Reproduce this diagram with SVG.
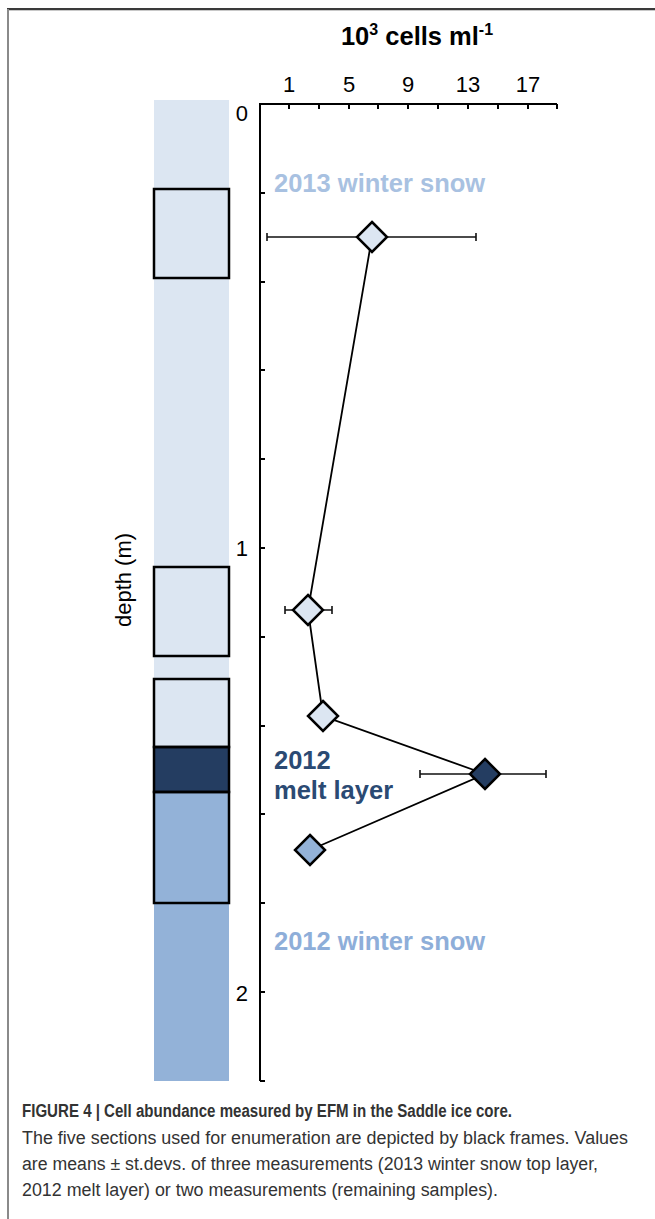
<svg xmlns="http://www.w3.org/2000/svg" width="655" height="1219" viewBox="0 0 655 1219">
<style>
.ax{stroke:#000;stroke-width:2;fill:none}
.frame{fill:none;stroke:#000;stroke-width:2.5}
.lbl{font-family:"Liberation Sans",Arial,sans-serif;font-size:22px;fill:#000}
.big{font-family:"Liberation Sans",Arial,sans-serif;font-size:25.5px;font-weight:bold}
.err{stroke:#111;stroke-width:1.6;fill:none}
.dia{stroke:#000;stroke-width:2.5}
.cap{font-family:"Liberation Sans",Arial,sans-serif;font-size:18px;fill:#333}
</style>
<rect width="655" height="1219" fill="#fff"/>
<g id="border">
<line x1="7" y1="9" x2="655" y2="9" stroke="#3a3a3a" stroke-width="2"/>
<line x1="7" y1="10.5" x2="655" y2="10.5" stroke="#c8c8c8" stroke-width="1"/>
<line x1="8" y1="9" x2="8" y2="1219" stroke="#8a8a8a" stroke-width="2"/>
</g>
<g id="core">
<rect x="154" y="100" width="75" height="647" fill="#dce6f2"/>
<rect x="154" y="747" width="75" height="45" fill="#243d61"/>
<rect x="154" y="792" width="75" height="289" fill="#93b2d8"/>
<rect class="frame" x="154" y="189" width="75" height="89"/>
<rect class="frame" x="154" y="567" width="75" height="89"/>
<rect class="frame" x="154" y="679" width="75" height="68"/>
<rect class="frame" x="154" y="747" width="75" height="45"/>
<rect class="frame" x="154" y="792" width="75" height="111"/>
</g>
<g id="axes">
<path class="ax" d="M260 1081 L260 104 L557 104 M557 104 L557 109 M260 1081 L265 1081"/>
<path class="ax" d="M289 104v5M319 104v5M349 104v5M378 104v5M408 104v5M438 104v5M468 104v5M498 104v5M528 104v5"/>
<path class="ax" d="M260 193h5M260 282h5M260 370h5M260 459h5M260 548h5M260 637h5M260 726h5M260 814h5M260 903h5M260 992h5"/>
<text class="lbl" x="289" y="92" text-anchor="middle">1</text>
<text class="lbl" x="349" y="92" text-anchor="middle">5</text>
<text class="lbl" x="408" y="92" text-anchor="middle">9</text>
<text class="lbl" x="468" y="92" text-anchor="middle">13</text>
<text class="lbl" x="528" y="92" text-anchor="middle">17</text>
<text class="lbl" x="248" y="121" text-anchor="end">0</text>
<text class="lbl" x="248" y="556" text-anchor="end">1</text>
<text class="lbl" x="248" y="1001" text-anchor="end">2</text>
<text class="big" x="417" y="45" text-anchor="middle" fill="#000">10<tspan font-size="16" dy="-10">3</tspan><tspan dy="10"> cells ml</tspan><tspan font-size="16" dy="-10">-1</tspan></text>
<text class="lbl" font-size="25" transform="translate(131 580) rotate(-90)" text-anchor="middle">depth (m)</text>
</g>
<g id="connectors">
<polyline points="372,237 308,610 323,716 485,774 310,850" fill="none" stroke="#000" stroke-width="1.8"/>
<path class="err" d="M267 237H476M267 233v8M476 233v8"/>
<path class="err" d="M285 610H332M285 606v8M332 606v8"/>
<path class="err" d="M420 774H546M420 770v8M546 770v8"/>
</g>
<g id="p1"><polygon class="dia" points="372,222 387,237 372,252 357,237" fill="#dce6f2"/></g>
<g id="p2"><polygon class="dia" points="308,595 323,610 308,625 293,610" fill="#dce6f2"/></g>
<g id="p3"><polygon class="dia" points="323,701 338,716 323,731 308,716" fill="#dce6f2"/></g>
<g id="p4"><polygon class="dia" points="485,759 500,774 485,789 470,774" fill="#243d61"/></g>
<g id="p5"><polygon class="dia" points="310,835 325,850 310,865 295,850" fill="#93b2d8"/></g>
<g id="labels">
<text class="big" x="274" y="192" fill="#a8c1e1">2013 winter snow</text>
<text class="big" x="274" y="769" fill="#2b4a73">2012</text>
<text class="big" x="274" y="799" fill="#2b4a73">melt layer</text>
<text class="big" x="274" y="950" fill="#8eaed9">2012 winter snow</text>
</g>
<g id="caption">
<text class="cap" x="22" y="1117" font-weight="bold" fill="#222" textLength="490" lengthAdjust="spacingAndGlyphs">FIGURE 4 | Cell abundance measured by EFM in the Saddle ice core.</text>
<text class="cap" x="22" y="1144" textLength="606" lengthAdjust="spacingAndGlyphs">The five sections used for enumeration are depicted by black frames. Values</text>
<text class="cap" x="22" y="1170" textLength="576" lengthAdjust="spacingAndGlyphs">are means ± st.devs. of three measurements (2013 winter snow top layer,</text>
<text class="cap" x="22" y="1196" textLength="476" lengthAdjust="spacingAndGlyphs">2012 melt layer) or two measurements (remaining samples).</text>
</g>
</svg>
